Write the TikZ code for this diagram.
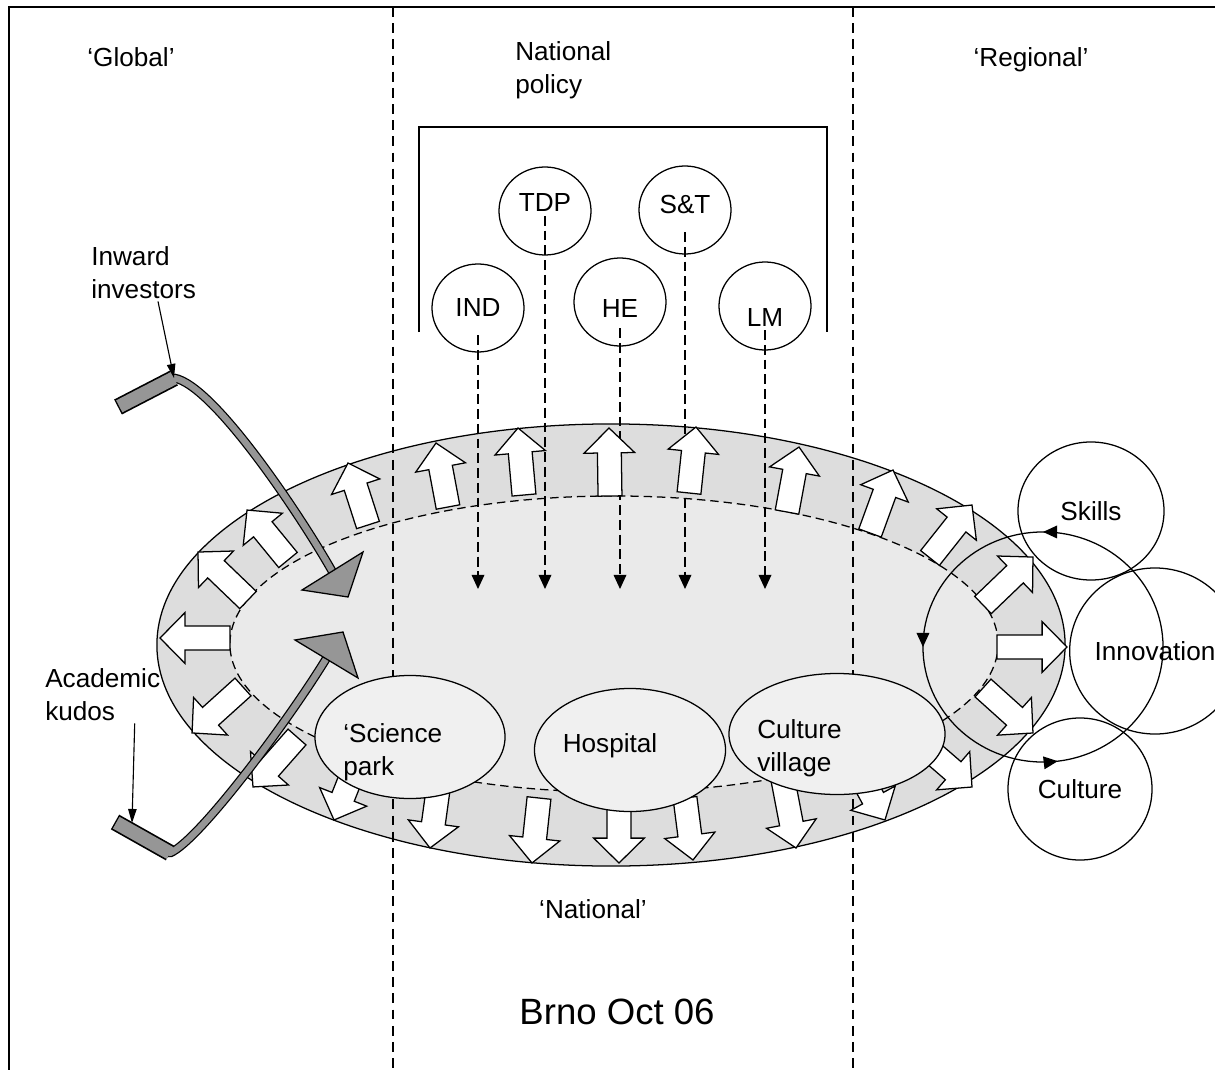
\documentclass[tikz,border=0pt]{standalone}
\usepackage{fontspec}
\setmainfont{Liberation Sans}
\usetikzlibrary{arrows.meta,calc,shapes.geometric,decorations.markings}
\definecolor{ringgrey}{RGB}{221,221,221}
\definecolor{coregrey}{RGB}{234,234,234}
\definecolor{sitegrey}{RGB}{240,240,240}
\definecolor{bandgrey}{RGB}{150,150,150}
\tikzset{
    %Define standard arrow tip
    >={Triangle[length=10pt,width=9pt]},
    %Define style for the policy circles
    policy/.style={
           ellipse,
           draw, line width=0.9pt,
           minimum width=2.3cm,
           minimum height=2.2cm,
           inner sep=0pt},
    % circles on the regional side
    region/.style={ellipse, draw, line width=0.9pt, inner sep=0pt},
    % the three sites
    site/.style={ellipse, draw, line width=0.9pt, fill=sitegrey, inner sep=0pt},
    % Define arrow styles
    pol/.style={->, line width=0.9pt, dash pattern=on 7pt off 3.5pt},
    pointer/.style={->, line width=0.8pt, >={Triangle[length=10pt,width=6pt]}},
    blk/.style={draw, fill=white, line width=0.9pt},
    divider/.style={line width=0.8pt, dash pattern=on 7pt off 4.5pt}
}
% white block arrow from base #1 to tip #2
\newcommand\blkarrow[2]{%
  \draw[blk] let \p1=(#1), \p2=(#2),
      \n1={atan2(\y2-\y1,\x2-\x1)}, \n2={veclen(\x2-\x1,\y2-\y1)} in
      [shift={(\p1)}, rotate=\n1]
      (0pt,-8.5pt) -- ({\n2-17.7pt},-8.5pt) -- ({\n2-17.7pt},-18pt)
      -- ({\n2+0pt},0pt) -- ({\n2-17.7pt},18pt) -- ({\n2-17.7pt},8.5pt)
      -- (0pt,8.5pt) -- cycle;}

\begin{document}
\begin{tikzpicture}[x=0.025cm, y=-0.025cm,
    every node/.style={font=\fontsize{18.6}{23.4}\selectfont}]
 \useasboundingbox (0,0) rectangle (1215,1070);
 \draw[line width=1.4pt] (9,7) rectangle (1260,1100);
 % the city region
 \node[ellipse, draw, line width=0.9pt, fill=ringgrey, inner sep=0pt,
   minimum width=22.7cm, minimum height=11.05cm] (outer) at (611,645) {};
 \node[ellipse, draw, line width=0.9pt, dash pattern=on 6pt off 3.5pt,
   fill=coregrey, inner sep=0pt,
   minimum width=19.2cm, minimum height=7.4cm] (core) at (614,644) {};
 % national policy
 \draw[line width=0.9pt] (419,332) -- (419,127) -- (827,127) -- (827,332);
 \node[policy, text depth=0.4cm] (tdp) at (545,211) {TDP};
 \node[policy, text depth=0.3cm] (st) at (685,210) {S\&T};
 \node[policy] (ind) at (478,308) {IND};
 \node[policy, text height=0.77cm] (he) at (620,302) {HE};
 \node[policy, text height=1.02cm] (lm) at (765,306) {LM};
 \coordinate (drop) at (0,589);
 \foreach \n/\s in {ind/0.68,tdp/0.12,he/0.65,st/0.55,lm/0.6}
   \draw[pol] ([yshift=-\s cm]\n.center) -- (\n.center |- drop);
 % arrows out of the region
 \foreach \bx/\by/\tx/\ty in {448/507/436/443, 524/495/518/428, 610/496/609/428,
     689/493/696/427, 787/512/799/447, 870/533/893/470, 930/558/972/505,
     983/605/1033/557, 997/647/1067/647, 983/688/1033/733, 935/755/972/787,
     862/778/885/820, 783/780/796/848, 685/798/693/860, 619/805/619/863,
     539/798/532/863, 438/790/430/848, 351/777/334/820, 297/737/253/787,
     243/687/192/733, 230/638/160/638, 248/600/198/552, 288/560/247/510,
     368/525/348/463}
   \blkarrow{\bx,\by}{\tx,\ty};
 % dividers
 \draw[divider] (393,7) -- (393,1070);
 \draw[divider] (853,7) -- (853,1070);
 % sites
 \node[site, minimum width=4.75cm, minimum height=3.075cm] (sci) at (410,737) {};
 \node[site, minimum width=4.775cm, minimum height=3.075cm] (hosp) at (630,750) {};
 \node[site, minimum width=5.4cm, minimum height=3.025cm] (vill) at (837,734) {};
 \node[anchor=north west, align=left, inner sep=0pt] (scitxt) at (343,723) {‘Science\\park};
 \node[anchor=base, inner sep=0pt] (hosptxt) at (610,752) {Hospital};
 \node[anchor=north west, align=left, inner sep=0pt] (villtxt) at (757,719) {Culture\\village};
 % regional cycle
 \draw[line width=0.9pt, postaction={decorate}, decoration={markings,
     mark=at position 0.25 with {\arrow{Triangle[length=10pt,width=9pt]}},
     mark=at position 0.5 with {\arrow{Triangle[length=10pt,width=9pt]}},
     mark=at position 0.77 with {\arrow{Triangle[length=10pt,width=9pt]}}}]
   (1043,647) ellipse [x radius=3cm, y radius=2.875cm];
 \node[region, minimum width=3.65cm, minimum height=3.45cm] (skills) at (1091,511) {Skills};
 \node[region, minimum width=4cm, minimum height=4.15cm] (innov) at (1155,651) {Innovation};
 \node[region, minimum width=3.6cm, minimum height=3.55cm] (cult) at (1080,789) {Culture};
 % global flows
 \coordinate (inknee) at (174,378);
 \coordinate (inbase) at (332,571);
 \coordinate (kuknee) at (170,853);
 \coordinate (kubase) at (326,659);
 \draw[line width=12pt] (118,407) -- (inknee) (115,822) -- (kuknee);
 \draw[line width=6.4pt, line cap=round] (inknee) .. controls (215,385) and (305,523) .. (inbase)
   (kuknee) .. controls (200,840) and (290,718) .. (kubase);
 \draw[line width=9.6pt, bandgrey, shorten <=1pt] (118,407) -- (inknee);
 \draw[line width=9.6pt, bandgrey, shorten <=1pt] (115,822) -- (kuknee);
 \draw[line width=4.6pt, bandgrey, line cap=round] (inknee) .. controls (215,385) and (305,523) .. (inbase)
   (kuknee) .. controls (200,840) and (290,718) .. (kubase);
 \draw[fill=bandgrey, line width=0.9pt] (302,590) -- (363,552) -- (348,597) -- cycle;
 \draw[fill=bandgrey, line width=0.9pt] (295,640) -- (358,678) -- (343,632) -- cycle;
 % labels
 \node[anchor=base] (global) at (131,67) {‘Global’};
 \node[anchor=north west, align=left, inner sep=0pt] (natpol) at (515,41) {National\\policy};
 \node[anchor=base] (regional) at (1031,67) {‘Regional’};
 \node[anchor=north west, align=left, inner sep=0pt] (inwtxt) at (91,246) {Inward\\investors};
 \node[anchor=north west, align=left, inner sep=0pt] (kudtxt) at (45,668) {Academic\\kudos};
 \node[anchor=base] (national) at (593,918) {‘National’};
 \node[anchor=base, font=\fontsize{26}{30}\selectfont] (brno) at (617,1024) {Brno Oct 06};
 \coordinate (kutip) at (132,823);
 \draw[pointer] ([xshift=0.36cm, yshift=-2pt]inwtxt.south) -- (inknee);
 \draw[pointer] ([xshift=0.8cm, yshift=-2pt]kudtxt.south) -- (kutip);
\end{tikzpicture}
\end{document}
